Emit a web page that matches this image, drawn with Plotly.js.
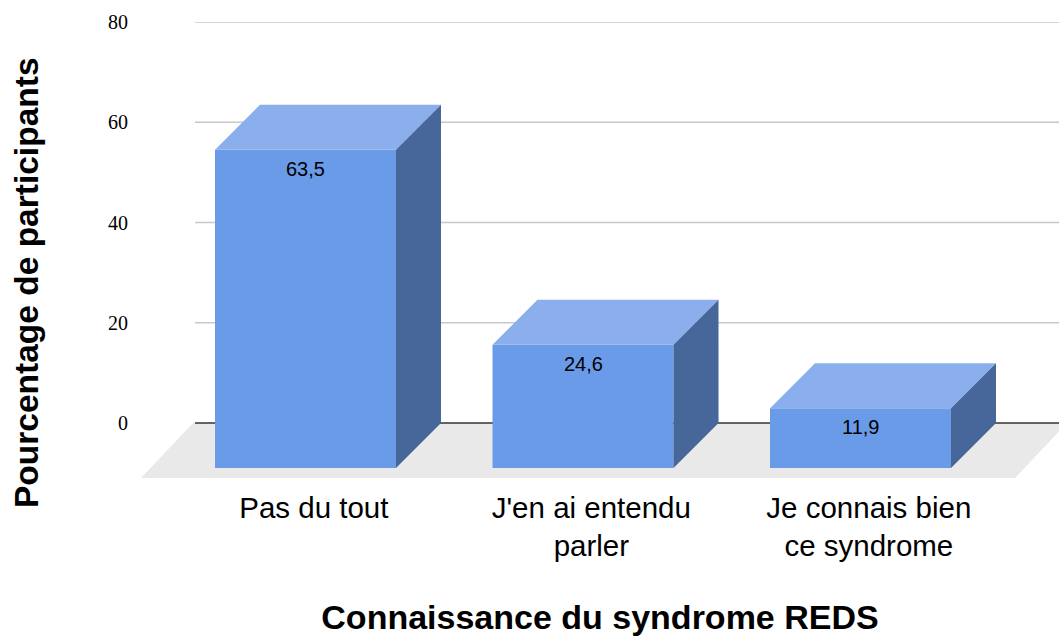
<!DOCTYPE html>
<html>
<head>
<meta charset="utf-8">
<script src="https://cdn.plot.ly/plotly-3.0.1.min.js"></script>
<style>html,body{margin:0;padding:0;background:#fff;}#chart{width:1059px;height:639px;}</style>
</head>
<body>
<div id="chart"></div>
<script>
// ---- data ----
const categories = ["Pas du tout", "J'en ai entendu<br>parler", "Je connais bien<br>ce syndrome"];
const values = [63.5, 24.6, 11.9];
const yTickVals = [0, 20, 40, 60, 80];
const yTickText = ["0", "20", "40", "60", "80"];
const xTitle = "Connaissance du syndrome REDS";
const yTitle = "Pourcentage de participants";

// ---- 3D styling (in axis units) ----
const HW = 0.3261;      // half bar width
const DX = 0.1622;      // depth offset x
const DY = 8.98;        // depth offset y
const X0 = -0.5928, X1 = 2.7153;
const Y0 = -11.37, Y1 = 80;
const FRONT = '#6a9be8', TOP = '#8aafec', SIDE = '#476699';

const traces = [];
function poly(xs, ys, color) {
  traces.push({x: xs.concat([xs[0]]), y: ys.concat([ys[0]]), mode: 'lines', fill: 'toself',
    fillcolor: color, line: {width: 0, color: color}, hoverinfo: 'skip', showlegend: false});
}
// gridlines (back wall)
yTickVals.filter(v => v > 0).forEach(v => {
  traces.push({x: [X0 + 0.1946, X1], y: [v, v], mode: 'lines', line: {color: '#c8c8c8', width: 1.5},
    hoverinfo: 'skip', showlegend: false});
});
// floor
poly([X0 + 0.1874, X0 + 0.1874 + 3.15, X0 + 3.15, X0], [0, 0, -10.97, -10.97], '#e9e9e9');
// baseline
traces.push({x: [X0 + 0.1946, X1], y: [0, 0], mode: 'lines', line: {color: '#333333', width: 1.5},
  hoverinfo: 'skip', showlegend: false});
// bars
const annotations = [];
values.forEach((v, i) => {
  const l = i - HW, r = i + HW;
  poly([l, r, r, l], [-DY, -DY, v - DY, v - DY], FRONT);
  poly([l, r, r + DX, l + DX], [v - DY, v - DY, v, v], TOP);
  poly([r, r + DX, r + DX, r], [-DY, 0, v, v - DY], SIDE);
  annotations.push({x: i, y: v - DY, xref: 'x', yref: 'y', text: String(v).replace('.', ','),
    showarrow: false, yanchor: 'middle', yshift: -19,
    font: {family: 'Liberation Sans, Arial, sans-serif', size: 20, color: '#000'}});
});
// y axis title (placed to match the reference's vertical centring)
annotations.push({xref: 'paper', yref: 'paper', x: -0.1253, y: 0.4323, xanchor: 'center', yanchor: 'middle',
  text: '<b>' + yTitle + '</b>', textangle: -90, showarrow: false,
  font: {family: 'Liberation Sans, Arial, sans-serif', size: 33.5, color: '#000'}});

const layout = {
  width: 1059, height: 639,
  margin: {l: 141, r: 0, t: 22, b: 159},
  paper_bgcolor: '#fff', plot_bgcolor: '#fff',
  showlegend: false,
  font: {family: 'Liberation Sans, Arial, sans-serif', color: '#000'},
  xaxis: {range: [X0, X1], showgrid: false, zeroline: false, showline: false,
    tickmode: 'array', tickvals: values.map((v, i) => i + 0.03), ticktext: categories,
    tickfont: {size: 29.5, color: '#000'}, ticklabelstandoff: 7,
    title: {text: '<b>' + xTitle + '</b>', font: {size: 34, color: '#000'}, standoff: 44}},
  yaxis: {range: [Y0, Y1], showgrid: false, zeroline: false, showline: false,
    tickmode: 'array', tickvals: yTickVals, ticktext: yTickText,
    tickfont: {family: 'Liberation Serif, Times New Roman, serif', size: 20, color: '#000'},
    ticklabelstandoff: 12},
  annotations: annotations
};
Plotly.newPlot('chart', traces, layout, {staticPlot: true, displayModeBar: false});
</script>
</body>
</html>
